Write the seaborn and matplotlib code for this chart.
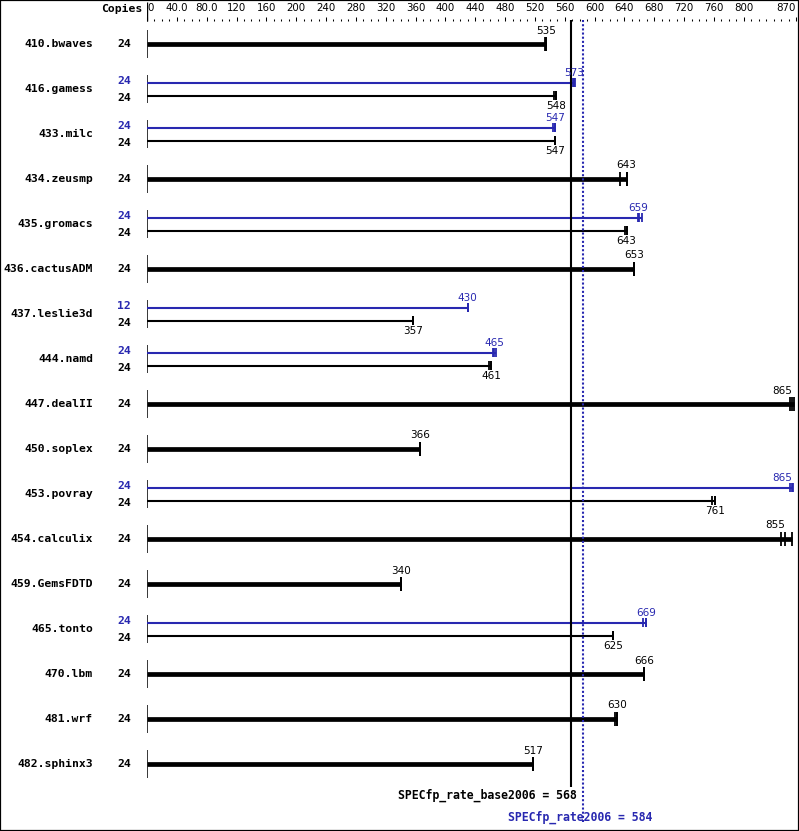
import numpy as np
import pandas as pd
import matplotlib
matplotlib.use("Agg")
import matplotlib.pyplot as plt
import matplotlib.transforms as mtransforms
from matplotlib.patches import Rectangle
import seaborn as sns


names = ["410.bwaves", "416.gamess", "433.milc", "434.zeusmp", "435.gromacs",
         "436.cactusADM", "437.leslie3d", "444.namd", "447.dealII", "450.soplex",
         "453.povray", "454.calculix", "459.GemsFDTD", "465.tonto", "470.lbm",
         "481.wrf", "482.sphinx3"]
base_copies = [24] * 17
base_score = [535, 548, 547, 643, 643, 653, 357, 461, 865, 366,
              761, 855, 340, 625, 666, 630, 517]
base_runs = [[534, 535, 535], [545, 548, 548], [547, 547, 547], [634, 643, 644],
             [641, 643, 644], [653, 653, 653], [357, 357, 357], [458, 461, 461],
             [862, 865, 867], [366, 366, 366], [758, 761, 762], [850, 855, 864],
             [340, 340, 340], [625, 625, 625], [666, 666, 666], [627, 630, 630],
             [517, 517, 517]]
peak_copies = [None, 24, 24, None, 24, None, 12, 24, None, None,
               24, None, None, 24, None, None, None]
peak_score = [None, 573, 547, None, 659, None, 430, 465, None, None,
              865, None, None, 669, None, None, None]
peak_runs = [None, [571, 573, 574], [544, 547, 547], None, [658, 659, 663], None,
             [430, 430, 430], [464, 465, 468], None, None, [862, 865, 866], None,
             None, [665, 669, 669], None, None, None]

base_overall = 568
peak_overall = 584

major_ticks = list(range(0, 801, 40)) + [870]
tick_labels = ["0", "40.0", "80.0"] + [str(v) for v in range(120, 801, 40)] + ["870"]

BLUE = "#2828b0"
W, H = 799, 831

sns.set_style("white")
plt.rcParams["font.family"] = ["DejaVu Sans"]
plt.rcParams["text.color"] = "black"
plt.rcParams["xtick.color"] = "black"

fig = plt.figure(figsize=(W / 100, H / 100), dpi=100)
ax = fig.add_axes([147 / W, 0, (796 - 147) / W, 1])
ax.set_xlim(0, 870)
ax.set_ylim(H, 0)
ax.axis("off")

# top scale
sax = fig.add_axes([147 / W, 1 - 21 / H, (796 - 147) / W, 0.0001])
sax.set_xlim(0, 870)
sax.set_yticks([])
for s in sax.spines.values():
    s.set_visible(False)
sax.xaxis.set_ticks_position("top")
sax.xaxis.set_label_position("top")
sax.set_xticks(major_ticks)
sax.set_xticklabels(tick_labels)
sax.set_xticks(np.arange(0, 871, 10), minor=True)
sax.tick_params(axis="x", which="major", direction="out", length=3.2, width=0.75,
                pad=2.5, labelsize=7.4, colors="black")
sax.tick_params(axis="x", which="minor", direction="out", length=1.6, width=0.75)
labs = sax.get_xticklabels()
labs[0].set_ha("left")
labs[-1].set_ha("right")
ax.vlines(0, 2, 21, color="black", lw=1.0)

name_tf = mtransforms.blended_transform_factory(fig.transFigure, ax.transData)
mono = "DejaVu Sans Mono"
fig.text(142 / W, 1 - 9 / H, "Copies", ha="right", va="center",
         family=mono, weight="bold", fontsize=8.2)

rows = []
for i, name in enumerate(names):
    yc = 44 + 45 * i
    ax.vlines(0, yc - 14, yc + 14, color="black", lw=1.1)
    ax.text(93 / W, yc, name, transform=name_tf, ha="right", va="center",
            family=mono, weight="bold", fontsize=8.2)
    if peak_score[i] is None:
        ax.text(131 / W, yc, str(base_copies[i]), transform=name_tf, ha="right",
                va="center", family=mono, weight="bold", fontsize=8.2)
        ax.hlines(yc, 0, max(base_runs[i]), color="black", lw=3.4)
        for r in base_runs[i]:
            rows.append({"y": yc, "value": r, "kind": "thick", "series": "base"})
        v = base_score[i]
        ha = "right" if v > 850 else "center"
        ax.text(v, yc - 8.5, str(v), ha=ha, va="bottom", fontsize=7.5)
    else:
        yb, yk = yc - 6.5, yc + 6.5
        ax.text(131 / W, yb - 1.5, str(peak_copies[i]), transform=name_tf, ha="right",
                va="center", family=mono, weight="bold", fontsize=8.2, color=BLUE)
        ax.text(131 / W, yk + 2.5, str(base_copies[i]), transform=name_tf, ha="right",
                va="center", family=mono, weight="bold", fontsize=8.2)
        ax.hlines(yb, 0, max(peak_runs[i]), color=BLUE, lw=1.5)
        ax.hlines(yk, 0, max(base_runs[i]), color="black", lw=1.5)
        for r in peak_runs[i]:
            rows.append({"y": yb, "value": r, "kind": "thin", "series": "peak"})
        for r in base_runs[i]:
            rows.append({"y": yk, "value": r, "kind": "thin", "series": "base"})
        v = peak_score[i]
        ha = "right" if v > 850 else "center"
        ax.text(v, yb - 4.5, str(v), ha=ha, va="bottom", fontsize=7.5, color=BLUE)
        v = base_score[i]
        ax.text(v, yk + 5.5, str(base_score[i]), ha="center", va="top", fontsize=7.5)

runs = pd.DataFrame(rows)
pal = {"base": "black", "peak": BLUE}
for kind, size in [("thick", 100), ("thin", 45)]:
    sub = runs[runs["kind"] == kind]
    sns.scatterplot(data=sub, x="value", y="y", hue="series", palette=pal,
                    marker="|", s=size, linewidth=1.3, legend=False, ax=ax,
                    clip_on=False)
ax.set_xlim(0, 870)
ax.set_ylim(H, 0)
ax.axis("off")

# overall score lines
ax.vlines(base_overall, 20, 787, color="black", lw=1.5)
ax.vlines(peak_overall, 20, 822, color=BLUE, lw=1.5, linestyles=(0, (1, 1)))
ax.text(576, 795, f"SPECfp_rate_base2006 = {base_overall}", ha="right", va="center",
        family=mono, weight="bold", fontsize=8.3)
ax.text(484, 817, f"SPECfp_rate2006 = {peak_overall}", ha="left", va="center",
        family=mono, weight="bold", fontsize=8.3, color=BLUE)

fig.add_artist(Rectangle((0, 0), 1, 1, transform=fig.transFigure, fill=False,
                         lw=1.6, edgecolor="black"))

fig.savefig("out.png", dpi=100)
